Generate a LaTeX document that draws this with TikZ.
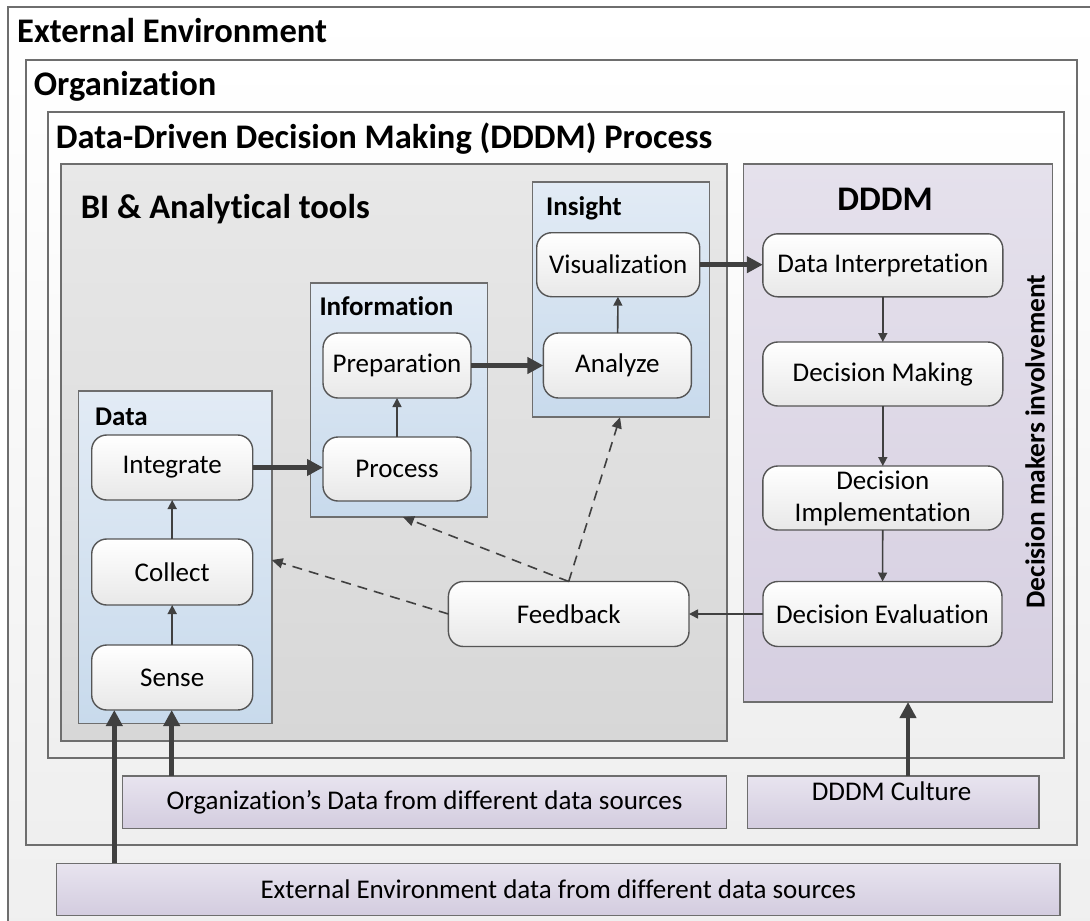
\documentclass[tikz,border=0pt]{standalone}
\usepackage{fontspec}
\setmainfont{Carlito}[Ligatures={NoCommon,NoContextual}]
\usetikzlibrary{arrows.meta}
\definecolor{frameC}{HTML}{6E6E6E}
\definecolor{nodeC}{HTML}{555555}
\definecolor{arrowC}{HTML}{404040}
\definecolor{grayTop}{HTML}{E8E8E8}
\definecolor{grayBot}{HTML}{D7D7D7}
\definecolor{blueTop}{HTML}{E2EBF5}
\definecolor{blueBot}{HTML}{C8DAEC}
\definecolor{purpTop}{HTML}{E5E1EC}
\definecolor{purpBot}{HTML}{D6CFE1}
\definecolor{barTop}{HTML}{E8E4EF}
\definecolor{barBot}{HTML}{D3CCDF}
\definecolor{paleBot}{HTML}{EFEFEF}
\definecolor{nodeBot}{HTML}{E8E8E8}
\begin{document}
\begin{tikzpicture}[x=1pt,y=-1pt,
  container/.style={draw=frameC, line width=1.6pt, inner sep=0pt, outer sep=0pt},
  palebox/.style={container, top color=white, bottom color=paleBot},
  graybox/.style={container, top color=grayTop, bottom color=grayBot},
  bluebox/.style={container, top color=blueTop, bottom color=blueBot},
  purpbox/.style={container, top color=purpTop, bottom color=purpBot},
  barbox/.style={container, top color=barTop, bottom color=barBot, font=\fontsize{27}{32}\selectfont},
  bigtitle/.style={font=\bfseries\fontsize{34.5}{40}\selectfont, anchor=base west, inner sep=0pt},
  subtitle/.style={font=\bfseries\fontsize{27}{32}\selectfont, anchor=base west, inner sep=0pt},
  stepbox/.style={draw=nodeC, line width=1.4pt, rounded corners=15pt, top color=white, bottom color=nodeBot,
    font=\fontsize{27}{32}\selectfont, align=center, inner sep=0pt, outer sep=0pt},
  thickarrow/.style={draw=arrowC, line width=4.5pt, -{Triangle[length=16pt,width=16pt]}},
  thinarrow/.style={draw=arrowC, line width=1.6pt, -{Triangle[length=9pt,width=9pt]}},
  dasharrow/.style={draw=arrowC, line width=1.6pt, dash pattern=on 10pt off 7pt, -{Triangle[length=11pt,width=10pt]}}
]
\useasboundingbox (0,0) rectangle (1090,921);
\clip (0,0) rectangle (1090,921);
\fill[white] (0,0) rectangle (1090,921);

% nested containers
\node[palebox, minimum width=1100pt, minimum height=940pt] (outer) at (558,477) {};
\node[palebox, minimum width=1051pt, minimum height=785pt] (org) at (551.5,452.5) {};
\node[palebox, minimum width=1016pt, minimum height=646pt] (proc) at (556,435) {};
\node[graybox, minimum width=666pt, minimum height=577pt] (bi) at (394,452.5) {};
\node[purpbox, minimum width=309pt, minimum height=538pt] (dddm) at (898,433) {};
\node[bluebox, minimum width=193.4pt, minimum height=332.5pt] (data) at (175,557.2) {};
\node[bluebox, minimum width=176.8pt, minimum height=234.3pt] (info) at (398.9,399.9) {};
\node[bluebox, minimum width=176.8pt, minimum height=235.3pt] (insight) at (620.9,299.6) {};

% bottom bars
\node[barbox, minimum width=603.7pt, minimum height=52.3pt] (orgbar) at (424.5,802.2) {Organization’s Data from different data sources};
\node[barbox, minimum width=291.2pt, minimum height=52.3pt] (culturebar) at (893.2,802.2) {};
\node[font=\fontsize{27}{32}\selectfont, anchor=base, inner sep=0pt] (culturetext) at (891.6,800) {DDDM Culture};
\node[barbox, minimum width=1003.3pt, minimum height=52.2pt] (extbar) at (558.3,889.4) {External Environment data from different data sources};

% titles
\node[bigtitle] (tExt) at (17,42.7) {External Environment};
\node[bigtitle] (tOrg) at (33.7,95) {Organization};
\node[bigtitle] (tProc) at (55.6,148) {Data-Driven Decision Making (DDDM) Process};
\node[bigtitle] (tBI) at (80.6,218.3) {BI \& Analytical tools};
\node[bigtitle, anchor=base] (tDDDM) at (885,210) {DDDM};
\node[subtitle] (tData) at (95,425) {Data};
\node[subtitle] (tInfo) at (319.3,315.7) {Information};
\node[subtitle] (tInsight) at (546,215) {Insight};
\node[font=\bfseries\fontsize{27.5}{32}\selectfont, rotate=90, inner sep=0pt] (tInv) at (1035,441.5) {Decision makers involvement};

% process steps
\node[stepbox, minimum width=161pt, minimum height=65pt] (integrate) at (172.2,467.5) {Integrate};
\node[stepbox, minimum width=161pt, minimum height=66pt] (collect) at (172.2,572) {Collect};
\node[stepbox, minimum width=161pt, minimum height=65pt] (sense) at (172.2,677.5) {Sense};
\node[stepbox, minimum width=148pt, minimum height=64pt] (process) at (397,469) {Process};
\node[stepbox, minimum width=148pt, minimum height=65pt] (prep) at (397,365.5) {Preparation};
\node[stepbox, minimum width=163pt, minimum height=64pt] (visual) at (618.2,264.7) {Visualization};
\node[stepbox, minimum width=148pt, minimum height=65pt] (analyze) at (617.4,365.5) {Analyze};
\node[stepbox, minimum width=240pt, minimum height=63pt] (interp) at (882.8,265.3) {Data Interpretation};
\node[stepbox, minimum width=240pt, minimum height=64pt] (making) at (882.8,374) {Decision Making};
\node[stepbox, minimum width=240pt, minimum height=64pt] (impl) at (882.8,498) {Decision\\Implementation};
\node[stepbox, minimum width=239pt, minimum height=65pt] (eval) at (882.5,614) {Decision Evaluation};
\node[stepbox, minimum width=240.6pt, minimum height=65pt] (feedback) at (568.7,614) {Feedback};

% thin arrows
\draw[thinarrow] (sense) -- (collect);
\draw[thinarrow] (collect) -- (integrate);
\draw[thinarrow] (process) -- (prep);
\draw[thinarrow] (analyze) -- (visual);
\draw[thinarrow] (interp) -- (making);
\draw[thinarrow] (making) -- (impl);
\draw[thinarrow] (impl) -- (eval);
\draw[thinarrow] (eval) -- (feedback);

% thick arrows
\draw[thickarrow] (integrate.east) -- (integrate.east -| process.west);
\draw[thickarrow] (prep.east) -- (analyze.west);
\draw[thickarrow] (visual.east) -- (visual.east -| interp.west);

% dashed feedback arrows
\coordinate (dataY) at (0,560);
\coordinate (infoX) at (403,0);
\coordinate (insX) at (620,0);
\draw[dasharrow] (feedback.west) -- (data.east |- dataY);
\draw[dasharrow] (feedback.north) -- (info.south -| infoX);
\draw[dasharrow] (feedback.north) -- (insight.south -| insX);

% input arrows from bars
\coordinate (extIn) at (114.3,0);
\coordinate (orgIn) at (171.7,0);
\coordinate (cultIn) at (908,0);
\draw[thickarrow] (extbar.north -| extIn) -- (sense.south -| extIn);
\draw[thickarrow] (orgbar.north -| orgIn) -- (sense.south -| orgIn);
\draw[thickarrow] (culturebar.north -| cultIn) -- (dddm.south -| cultIn);
\end{tikzpicture}
\end{document}
